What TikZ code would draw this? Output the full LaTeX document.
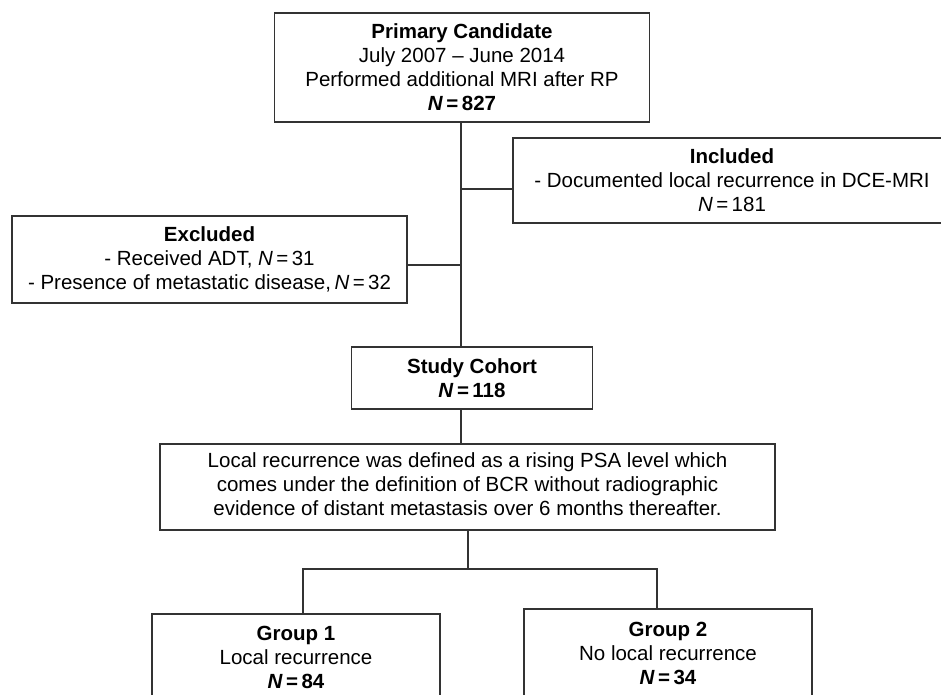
\documentclass[tikz,border=0pt]{standalone}
\usepackage{fontspec}
\setmainfont{Liberation Sans}
\begin{document}
\begin{tikzpicture}[x=1pt,y=-1pt,
  box/.style={draw=black!80, line width=1.3pt, fill=white, align=center, inner sep=0pt,
    font=\fontsize{20.5}{24}\selectfont},
  conn/.style={draw=black!80, line width=1.3pt}]
\useasboundingbox (0,0) rectangle (941,695);
\clip (0,0) rectangle (941,695);
\fill[white] (0,0) rectangle (941,695);
% nodes
\node[box, minimum width=375pt, minimum height=109pt] (prim) at (462,67.5)
  {\textbf{Primary Candidate}\\July 2007 -- June 2014\\Performed additional MRI after RP\\\textbf{\textit{N}\,=\,827}};
\node[box, minimum width=438pt, minimum height=85pt] (inc) at (732,180.5)
  {\textbf{Included}\\- Documented local recurrence in DCE-MRI\\\textit{N}\,=\,181};
\node[box, minimum width=395pt, minimum height=87pt] (exc) at (209.5,259.5)
  {\textbf{Excluded}\\- Received ADT, \textit{N}\,=\,31\\- Presence of metastatic disease,\,\textit{N}\,=\,32};
\node[box, minimum width=241pt, minimum height=62pt] (coh) at (472,378)
  {\textbf{Study Cohort}\\\textbf{\textit{N}\,=\,118}};
\node[box, minimum width=615pt, minimum height=86pt] (loc) at (467.5,487)
  {\raisebox{-3pt}{\begin{tabular}{@{}c@{}}Local recurrence was defined as a rising PSA level which\\comes under the definition of BCR without radiographic\\evidence of distant metastasis over 6 months thereafter.\end{tabular}}};
\node[box, minimum width=288pt, minimum height=86pt] (g1) at (296,657)
  {\textbf{Group 1}\\Local recurrence\\\textbf{\textit{N}\,=\,84}};
\node[box, minimum width=288pt, minimum height=88pt] (g2) at (668,653)
  {\textbf{Group 2}\\No local recurrence\\\textbf{\textit{N}\,=\,34}};
% connectors
\coordinate (spine) at (461,0);
\coordinate (fork) at (468,569);
\draw[conn] (prim.south -| spine) -- (coh.north -| spine);
\draw[conn] ([yshift=-8.5pt]inc.west) -- ([yshift=-8.5pt]inc.west -| spine);
\draw[conn] ([yshift=-5.5pt]exc.east) -- ([yshift=-5.5pt]exc.east -| spine);
\draw[conn] (coh.south -| spine) -- (loc.north -| spine);
\draw[conn] (loc.south -| fork) -- (fork);
\draw[conn] (g1.north -| 303,0) -- (303,569) -- (657,569) -- (g2.north -| 657,0);
\end{tikzpicture}
\end{document}
